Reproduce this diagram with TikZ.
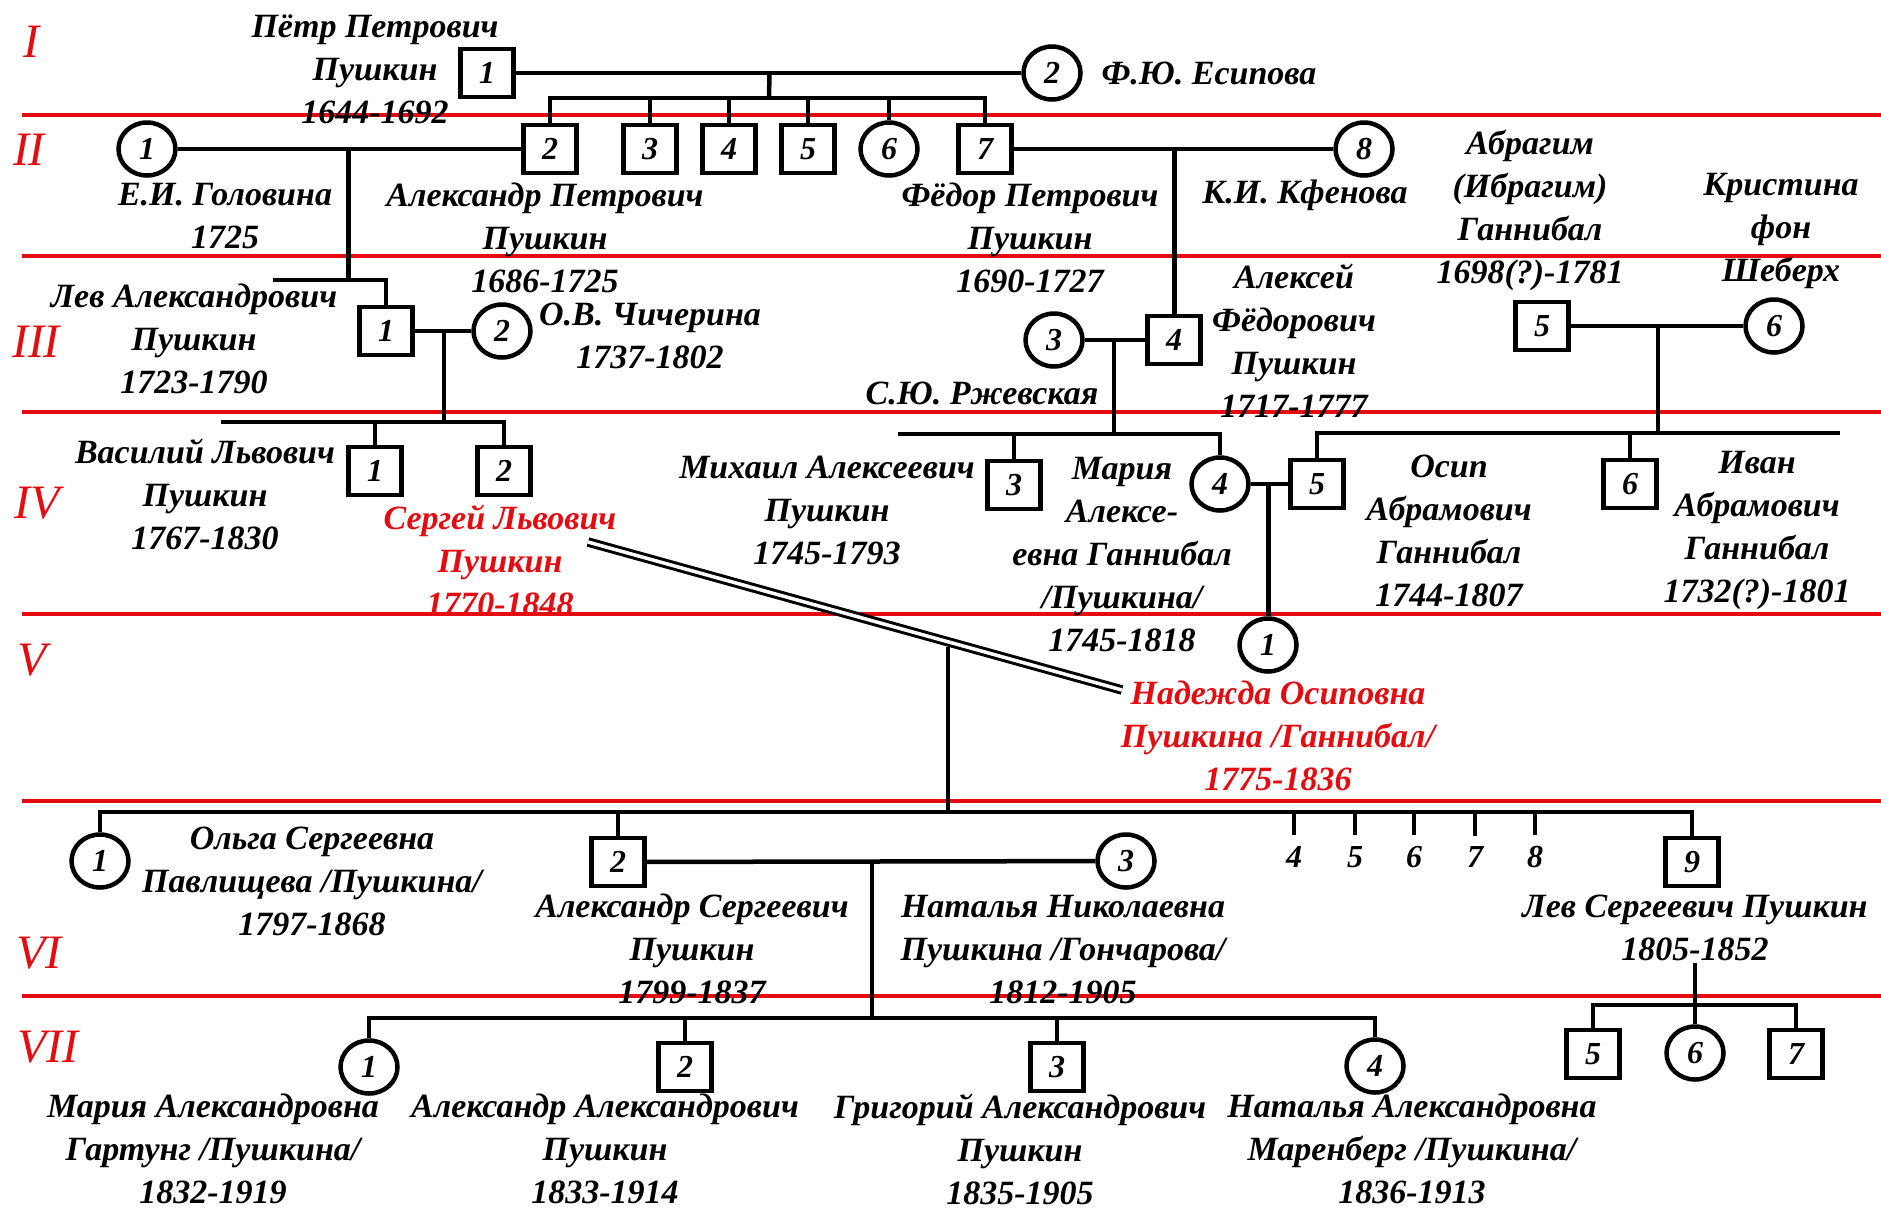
\documentclass[tikz,border=0pt]{standalone}
\usepackage{fontspec}
\setmainfont{Liberation Serif}
\usetikzlibrary{calc,shapes.geometric}
\definecolor{genred}{RGB}{228,12,16}
\begin{document}
\begin{tikzpicture}[x=1pt,y=-1pt,line width=4.5pt,font=\fontsize{34}{43}\selectfont\bfseries\itshape]
    \tikzset{male/.style={draw, rectangle, minimum width=53pt, minimum height=48pt, inner sep=0pt, font=\fontsize{32}{32}\selectfont\bfseries\itshape},
        female/.style={draw, ellipse, minimum width=57pt, minimum height=53pt, inner sep=0pt, font=\fontsize{32}{32}\selectfont\bfseries\itshape},
        lbl/.style={align=center, inner sep=0pt},
        redlbl/.style={lbl, text=genred},
        kid/.style={inner sep=0pt, outer sep=11pt, font=\fontsize{32}{32}\selectfont\bfseries\itshape},
        gen/.style={text=genred, font=\fontsize{48}{48}\selectfont\itshape},
        genline/.style={genred, line width=3.5pt},
        wed/.style={double, double distance=3.5pt, line width=3pt}}
    \fill[white] (0,0) rectangle (1881,1208);
    \useasboundingbox (0,0) rectangle (1881,1208);
    \foreach \y in {115,256,412,614,801,996}
        \draw[genline] (22,\y) -- (1881,\y);
    \node[gen] (g1) at (31,42) {I};
    \node[gen] (g2) at (29,150) {II};
    \node[gen] (g3) at (36,342) {III};
    \node[gen] (g4) at (37,503) {IV};
    \node[gen] (g5) at (32,660) {V};
    \node[gen] (g6) at (39,953) {VI};
    \node[gen] (g7) at (48,1047) {VII};

    \node[male] (i1) at (487,73) {1};
    \node[female] (i2) at (1052,73) {2};
    \node[lbl] (ti1) at (375,69) {Пётр Петрович\\Пушкин\\1644-1692};
    \node[lbl] (ti2) at (1209,73) {Ф.Ю. Есипова};

    \node[female] (ii1) at (147,149) {1};
    \node[male] (ii2) at (550,149) {2};
    \node[male] (ii3) at (650,149) {3};
    \node[male] (ii4) at (729,149) {4};
    \node[male] (ii5) at (808,149) {5};
    \node[female] (ii6) at (889,149) {6};
    \node[male] (ii7) at (985,149) {7};
    \node[female] (ii8) at (1364,149) {8};
    \node[lbl] (tii1) at (225,216) {Е.И. Головина\\1725};
    \node[lbl] (tii2) at (545,238) {Александр Петрович\\Пушкин\\1686-1725};
    \node[lbl] (tii7) at (1030,238) {Фёдор Петрович\\Пушкин\\1690-1727};
    \node[lbl] (tii8) at (1305,195) {К.И. Кфенова};

    \node[male] (iii1) at (386,331) {1};
    \node[female] (iii2) at (502,331) {2};
    \node[female] (iii3) at (1054,340) {3};
    \node[male] (iii4) at (1174,340) {4};
    \node[male] (iii5) at (1542,326) {5};
    \node[female] (iii6) at (1774,326) {6};
    \node[lbl] (tiii1) at (194,339) {Лев Александрович\\Пушкин\\1723-1790};
    \node[lbl] (tiii2) at (650,336) {О.В. Чичерина\\1737-1802};
    \node[lbl] (tiii3) at (982,393) {С.Ю. Ржевская};
    \node[lbl] (tiii4) at (1294,341) {Алексей\\Фёдорович\\Пушкин\\1717-1777};
    \node[lbl] (tiii5) at (1530,210) {Абрагим\\(Ибрагим)\\Ганнибал\\1698(?)-1781};
    \node[lbl] (tiii6) at (1781,231) {Кристина\\фон\\Шеберх};

    \node[male] (iv1) at (375,471) {1};
    \node[male] (iv2) at (504,471) {2};
    \node[male] (iv3) at (1014,485) {3};
    \node[female] (iv4) at (1220,484) {4};
    \node[male] (iv5) at (1317,484) {5};
    \node[male] (iv6) at (1630,484) {6};
    \node[lbl] (tiv1) at (205,494) {Василий Львович\\Пушкин\\1767-1830};
    \node[redlbl] (tiv2) at (500,560) {Сергей Львович\\Пушкин\\1770-1848};
    \node[lbl] (tiv3) at (827,510) {Михаил Алексеевич\\Пушкин\\1745-1793};
    \node[lbl] (tiv4) at (1122,555) {Мария\\Алексе-\\евна Ганнибал\\/Пушкина/\\1745-1818};
    \node[lbl] (tiv5) at (1449,531) {Осип\\Абрамович\\Ганнибал\\1744-1807};
    \node[lbl] (tiv6) at (1757,530) {Иван\\Абрамович\\Ганнибал\\1732(?)-1801};

    \node[female] (v1) at (1268,645) {1};
    \node[redlbl] (tv1) at (1278,736) {Надежда Осиповна\\Пушкина /Ганнибал/\\1775-1836};

    \node[female] (vi1) at (100,861) {1};
    \node[male] (vi2) at (618,862) {2};
    \node[female] (vi3) at (1126,861) {3};
    \node[kid] (vi4) at (1294,857) {4};
    \node[kid] (vi5) at (1355,857) {5};
    \node[kid] (vi6) at (1414,857) {6};
    \node[kid] (vi7) at (1475,857) {7};
    \node[kid] (vi8) at (1535,857) {8};
    \node[male] (vi9) at (1692,862) {9};
    \node[lbl] (tvi1) at (312,881) {Ольга Сергеевна\\Павлищева /Пушкина/\\1797-1868};
    \node[lbl] (tvi2) at (692,949) {Александр Сергеевич\\Пушкин\\1799-1837};
    \node[lbl] (tvi3) at (1063,950) {Наталья Николаевна\\Пушкина /Гончарова/\\1812-1905};
    \node[lbl] (tvi9) at (1695,928) {Лев Сергеевич Пушкин\\1805-1852};

    \node[female] (vii1) at (369,1067) {1};
    \node[male] (vii2) at (685,1067) {2};
    \node[male] (vii3) at (1057,1067) {3};
    \node[female] (vii4) at (1375,1066) {4};
    \node[male] (vii5) at (1593,1054) {5};
    \node[female] (vii6) at (1695,1053) {6};
    \node[male] (vii7) at (1796,1054) {7};
    \node[lbl] (tvii1) at (213,1149) {Мария Александровна\\Гартунг /Пушкина/\\1832-1919};
    \node[lbl] (tvii2) at (605,1149) {Александр Александрович\\Пушкин\\1833-1914};
    \node[lbl] (tvii3) at (1020,1149) {Григорий Александрович\\Пушкин\\1835-1905};
    \node[lbl] (tvii4) at (1412,1149) {Наталья Александровна\\Маренберг /Пушкина/\\1836-1913};

    \draw (i1) -- (i2);
    \coordinate (ji) at ($(i1)!0.5!(i2)$);
    \coordinate (si) at (769,98);
    \draw (ji) -- (si);
    \draw (ii2.north) |- (si) -| (ii7.north);
    \foreach \k in {ii3,ii4,ii5,ii6}
        \draw (\k.north) -- (\k.north |- si);

    \draw (ii1) -- (ii2);
    \coordinate (jii) at ($(ii1)!0.5!(ii2)$);
    \coordinate (sii) at (348.5,280);
    \coordinate (sii0) at (273,280);
    \draw (jii) -- (sii);
    \draw (sii0) -| (iii1.north);
    \draw (ii7) -- (ii8);
    \coordinate (jii7) at ($(ii7)!0.5!(ii8)$);
    \draw (jii7) -- (jii7 |- iii4.north);

    \draw (iii1) -- (iii2);
    \coordinate (jiii) at ($(iii1)!0.5!(iii2)$);
    \coordinate (siii) at (444,422);
    \coordinate (siii0) at (221,422);
    \draw (jiii) -- (siii);
    \draw (siii0) -| (iv2.north);
    \draw (iv1.north) -- (iv1.north |- siii);
    \draw (iii3) -- (iii4);
    \coordinate (jiii3) at ($(iii3)!0.5!(iii4)$);
    \coordinate (siii3) at (1114,434);
    \coordinate (siii30) at (898,434);
    \draw (jiii3) -- (siii3);
    \draw (siii30) -| (iv4.north);
    \draw (iv3.north) -- (iv3.north |- siii3);
    \draw (iii5) -- (iii6);
    \coordinate (jiii5) at ($(iii5)!0.5!(iii6)$);
    \coordinate (siii5) at (1658,433);
    \coordinate (siii50) at (1840,433);
    \draw (jiii5) -- (siii5);
    \draw (siii50) -| (iv5.north);
    \draw (iv6.north) -- (iv6.north |- siii5);

    \draw (iv4) -- (iv5);
    \coordinate (jiv) at ($(iv4)!0.5!(iv5)$);
    \draw (jiv) -- (jiv |- v1.north);

    \coordinate (ws) at (588,542);
    \coordinate (we) at (1122,690);
    \coordinate (jv) at ($(ws)!0.674!(we)$);
    \coordinate (svi) at (948,812);
    \draw ($(jv)+(0,5)$) -- (jv |- svi);
    \draw[wed] (ws) -- (we);
    \draw (vi1.north) |- (svi) -| (vi9.north);
    \draw (vi2.north) -- (vi2.north |- svi);
    \foreach \n in {4,...,8}
        \draw (vi\n.north) -- (vi\n.north |- svi);

    \draw (vi2) -- (vi3);
    \coordinate (jvi) at ($(vi2)!0.5!(vi3)$);
    \coordinate (svii) at (872,1018);
    \draw (jvi) -- (svii);
    \draw (vii1.north) |- (svii) -| (vii4.north);
    \draw (vii2.north) -- (vii2.north |- svii);
    \draw (vii3.north) -- (vii3.north |- svii);
    \coordinate (svii9) at (1695,1005);
    \draw (tvi9.south) -- (vii6.north);
    \draw (vii5.north) |- (svii9) -| (vii7.north);
\end{tikzpicture}
\end{document}
